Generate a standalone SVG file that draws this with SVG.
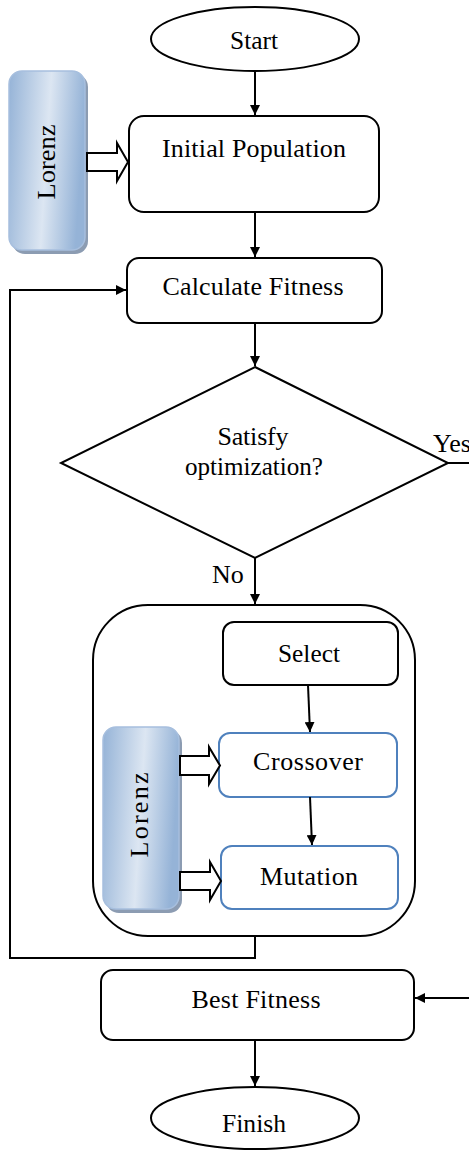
<svg xmlns="http://www.w3.org/2000/svg" width="469" height="1150" viewBox="0 0 469 1150">
  <defs>
    <linearGradient id="lorenzFill" x1="0" y1="0" x2="1" y2="0.15">
      <stop offset="0" stop-color="#95b3d7"/>
      <stop offset="0.55" stop-color="#dce6f2"/>
      <stop offset="1" stop-color="#95b3d7"/>
    </linearGradient>
    <marker id="arrow" viewBox="0 0 10 10" refX="10" refY="5" markerWidth="5" markerHeight="5" orient="auto" markerUnits="strokeWidth">
      <path d="M0,0 L10,5 L0,10 z" fill="#000"/>
    </marker>
    <style>
      .box { fill: #fff; stroke: #000; stroke-width: 2; }
      .blue { fill: #fff; stroke: #4f81bd; stroke-width: 2; }
      .lorenz { fill: url(#lorenzFill); stroke: #a7bfde; stroke-width: 1.5; }
      .shadow { fill: #8c9cb2; }
      .block { fill: #fff; stroke: #000; stroke-width: 2; stroke-linejoin: miter; }
      .line { fill: none; stroke: #000; stroke-width: 2; }
      text { font-family: "Liberation Serif", "Times New Roman", serif; font-size: 26px; fill: #000; }
      .txt { text-anchor: middle; }
    </style>
  </defs>

  <rect width="469" height="1150" fill="#fff"/>

  <g id="start">
    <ellipse class="box" cx="255" cy="39" rx="104" ry="32"/>
    <text class="txt" x="254" y="49" textLength="48" lengthAdjust="spacingAndGlyphs">Start</text>
  </g>

  <g id="lorenz-top">
    <rect class="shadow" x="12" y="74" width="76" height="180" rx="13"/>
    <rect class="lorenz" x="9" y="71" width="76" height="179" rx="13"/>
    <text class="txt" transform="translate(55,162) rotate(-90)" textLength="75" lengthAdjust="spacingAndGlyphs">Lorenz</text>
    <path class="block" d="M87,153 H117 V143 L128,162 L117,181 V171 H87 Z"/>
  </g>

  <g id="initial-population">
    <rect class="box" x="129" y="116" width="250" height="96" rx="15"/>
    <text class="txt" x="254" y="157" textLength="184" lengthAdjust="spacing">Initial Population</text>
  </g>

  <g id="calculate-fitness">
    <rect class="box" x="127" y="258" width="255" height="65" rx="12"/>
    <text class="txt" x="253" y="295" textLength="181" lengthAdjust="spacing">Calculate Fitness</text>
  </g>

  <g id="satisfy">
    <polygon class="box" points="255,367 448,463 255,558 61,463"/>
    <text class="txt" x="253" y="445" textLength="71" lengthAdjust="spacing">Satisfy</text>
    <text class="txt" x="254" y="475" textLength="138" lengthAdjust="spacingAndGlyphs">optimization?</text>
  </g>

  <g id="ga-operators">
    <rect class="box" x="93" y="605" width="322" height="331" rx="55"/>
    <g id="select">
      <rect class="box" x="223" y="622" width="175" height="63" rx="11"/>
      <text class="txt" x="309" y="662" textLength="62" lengthAdjust="spacingAndGlyphs">Select</text>
    </g>
    <g id="crossover">
      <rect class="blue" x="219" y="733" width="178" height="64" rx="11"/>
      <text class="txt" x="308" y="770" textLength="110" lengthAdjust="spacing">Crossover</text>
    </g>
    <g id="mutation">
      <rect class="blue" x="221" y="846" width="177" height="63" rx="11"/>
      <text class="txt" x="309" y="885" textLength="98" lengthAdjust="spacing">Mutation</text>
    </g>
    <g id="lorenz-inner">
      <rect class="shadow" x="106" y="730" width="76" height="183" rx="13"/>
      <rect class="lorenz" x="103" y="727" width="76" height="182" rx="13"/>
      <text class="txt" transform="translate(148,815) rotate(-90)" textLength="85" lengthAdjust="spacing">Lorenz</text>
      <path class="block" d="M180,756 H209 V747 L220,765.5 L209,784 V775 H180 Z"/>
      <path class="block" d="M180,872 H210 V862 L221,881 L210,900 V890 H180 Z"/>
    </g>
  </g>

  <g id="best-fitness">
    <rect class="box" x="101" y="970" width="313" height="70" rx="12"/>
    <text class="txt" x="256" y="1008" textLength="129" lengthAdjust="spacing">Best Fitness</text>
  </g>

  <g id="finish">
    <ellipse class="box" cx="255" cy="1118" rx="104" ry="31"/>
    <text class="txt" x="254" y="1132" textLength="64" lengthAdjust="spacingAndGlyphs">Finish</text>
  </g>

  <g id="connectors">
    <line class="line" x1="255" y1="71" x2="255" y2="115" marker-end="url(#arrow)"/>
    <line class="line" x1="255" y1="212" x2="255" y2="257" marker-end="url(#arrow)"/>
    <line class="line" x1="255" y1="323" x2="255" y2="366" marker-end="url(#arrow)"/>
    <line class="line" x1="255" y1="558" x2="255" y2="604" marker-end="url(#arrow)"/>
    <line class="line" x1="308" y1="685" x2="310" y2="732" marker-end="url(#arrow)"/>
    <line class="line" x1="310" y1="797" x2="312" y2="845" marker-end="url(#arrow)"/>
    <polyline class="line" points="255,936 255,958 10,958 10,290 126,290" marker-end="url(#arrow)"/>
    <line class="line" x1="448" y1="463" x2="470" y2="463"/>
    <line class="line" x1="470" y1="998" x2="415" y2="998" marker-end="url(#arrow)"/>
    <line class="line" x1="255" y1="1040" x2="255" y2="1086" marker-end="url(#arrow)"/>
    <text x="433" y="452">Yes</text>
    <text x="212" y="583">No</text>
  </g>
</svg>
